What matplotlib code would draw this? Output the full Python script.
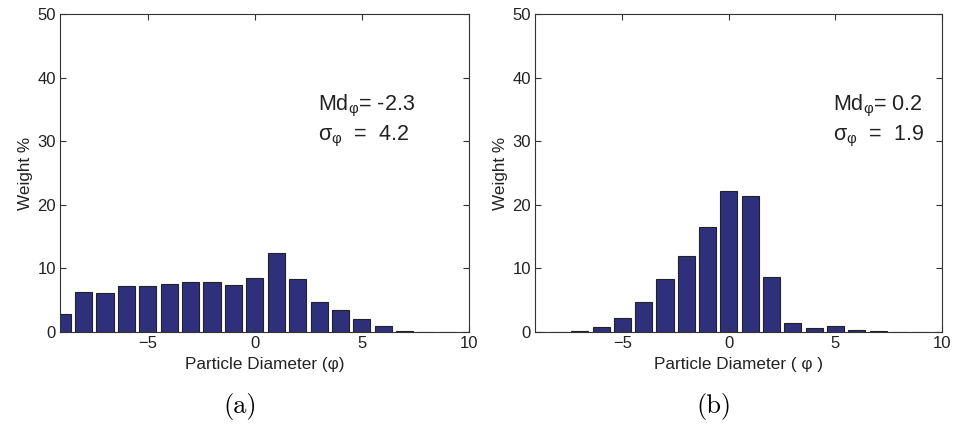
import numpy as np
import matplotlib
matplotlib.use('Agg')
import matplotlib.pyplot as plt

plt.rcParams['font.family'] = ['Liberation Sans', 'DejaVu Sans']
plt.rcParams['mathtext.fontset'] = 'custom'
plt.rcParams['mathtext.rm'] = 'Liberation Sans'
plt.rcParams['mathtext.it'] = 'Liberation Sans'

# phi classes (bar centres)
phi = np.arange(-9, 11)

# sample (a)
weight_a = [2.8, 6.3, 6.2, 7.2, 7.2, 7.5, 7.9, 7.8, 7.4, 8.5,
            12.4, 8.3, 4.7, 3.4, 2.1, 1.0, 0.1, 0.05, 0.05, 0.02]
# sample (b)
weight_b = [0.0, 0.05, 0.15, 0.75, 2.25, 4.75, 8.3, 11.9, 16.5, 22.1,
            21.4, 8.6, 1.35, 0.7, 0.9, 0.35, 0.1, 0.05, 0.02, 0.0]

md = ['-2.3', '0.2']
sd = ['4.2', '1.9']
xlabels = ['Particle Diameter (\u03c6)', 'Particle Diameter ( \u03c6 )']
captions = ['(a)', '(b)']
text_x = [2.95, 4.88]

fig = plt.figure(figsize=(9.57, 4.26), dpi=100)
positions = [[60 / 957, 0.2207, 409 / 957, 0.7465],
             [535 / 957, 0.2207, 407 / 957, 0.7465]]

for i, w in enumerate([weight_a, weight_b]):
    ax = fig.add_axes(positions[i])
    ax.bar(phi, w, width=0.8, color='#2e307c', edgecolor='#222222', linewidth=0.8)
    ax.set_xlim(-9.1, 10)
    ax.set_ylim(0, 50)
    ax.set_xticks([-5, 0, 5, 10])
    ax.set_yticks([0, 10, 20, 30, 40, 50])
    ax.tick_params(direction='in', top=True, right=True, labelsize=12, length=4,
                   color='#333333', labelcolor='#222222', pad=3)
    for s in ax.spines.values():
        s.set_color('#333333')
    ax.set_xlabel(xlabels[i], fontsize=12.3, color='#222222', labelpad=4)
    ax.set_ylabel('Weight %', fontsize=12.3, color='#222222', labelpad=3)
    ax.text(text_x[i], 34.9, 'Md$_{\\mathrm{\u03c6}}$= ' + md[i], fontsize=15.5, color='#222222')
    ax.text(text_x[i], 30.2, '\u03c3$_{\\mathrm{\u03c6}}$  =  ' + sd[i], fontsize=15.5, color='#222222')
    cx = positions[i][0] + positions[i][2] * (9.1 / 19.1) - 15 / 957
    fig.text(cx, 1 - 406 / 426, captions[i], family='cmr10', fontsize=19,
             ha='center', va='center')

fig.savefig('out.png', dpi=100)
